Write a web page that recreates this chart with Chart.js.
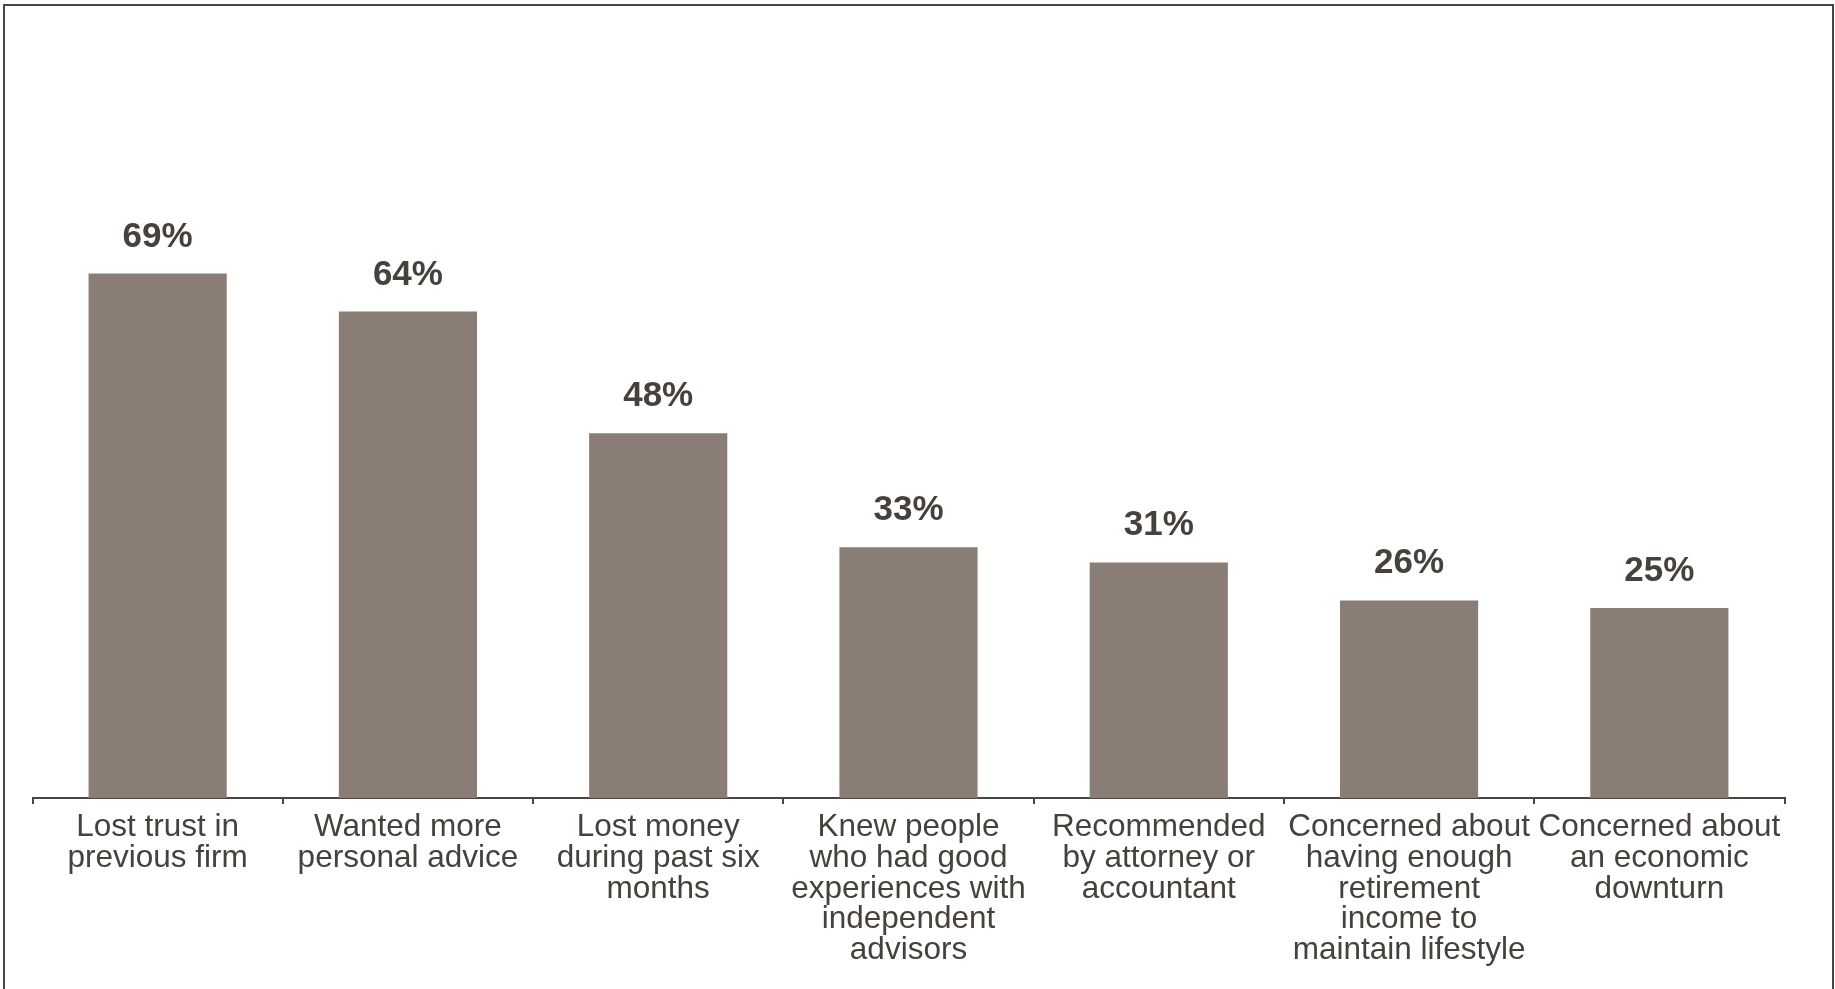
<!DOCTYPE html>
<html>
<head>
<meta charset="utf-8">
<title>Reasons for switching</title>
<script src="https://cdn.jsdelivr.net/npm/chart.js@4"></script>
<style>
  html, body { margin: 0; padding: 0; background: #fff; overflow: hidden; }
  .frame {
    position: absolute; left: 3px; top: 4px; width: 1831px; height: 1100px;
    border: 2px solid #4b4541; box-sizing: border-box;
  }
  .wrap { position: absolute; left: 0; top: 0; width: 1835px; height: 989px; }
</style>
</head>
<body>
<div class="frame"></div>
<div class="wrap"><canvas id="myChart"></canvas></div>
<script>
let reasons = [
    ['Lost trust in', 'previous firm'],
    ['Wanted more', 'personal advice'],
    ['Lost money', 'during past six', 'months'],
    ['Knew people', 'who had good', 'experiences with', 'independent', 'advisors'],
    ['Recommended', 'by attorney or', 'accountant'],
    ['Concerned about', 'having enough', 'retirement', 'income to', 'maintain lifestyle'],
    ['Concerned about', 'an economic', 'downturn']
];
let percents = [69, 64, 48, 33, 31, 26, 25];

const textColor = '#47413c';
const lineColor = '#4b4541';

// percentage above each bar
const valueLabels = {
    id: 'valueLabels',
    afterDatasetsDraw(chart) {
        const ctx = chart.ctx;
        const meta = chart.getDatasetMeta(0);
        ctx.save();
        ctx.fillStyle = textColor;
        ctx.font = "bold 35px 'Liberation Sans', Arial, sans-serif";
        ctx.textAlign = 'center';
        ctx.textBaseline = 'alphabetic';
        meta.data.forEach((bar, i) => {
            ctx.fillText(percents[i] + '%', bar.x, bar.y - 27);
        });
        ctx.restore();
    }
};

let ctx = document.getElementById('myChart').getContext('2d');
let myChart = new Chart(ctx, {
    type: 'bar',
    data: {
        labels: reasons,
        datasets: [{
            data: percents,
            backgroundColor: '#8a7d75',
            borderWidth: 0,
            categoryPercentage: 1,
            barPercentage: 0.552,
        }]
    },
    options: {
        responsive: true,
        maintainAspectRatio: false,
        animation: false,
        layout: {
            padding: { left: 32.5, right: 50.5, top: 38, bottom: 0 }
        },
        scales: {
            y: {
                display: false,
                min: 0,
                max: 100
            },
            x: {
                grid: {
                    offset: true,
                    drawOnChartArea: false,
                    color: lineColor,
                    lineWidth: 2,
                    tickLength: 6
                },
                border: { color: lineColor, width: 2 },
                ticks: {
                    color: textColor,
                    autoSkip: false,
                    maxRotation: 0,
                    padding: 8.5,
                    font: {
                        family: "'Liberation Sans', Arial, sans-serif",
                        size: 31.5,
                        lineHeight: 0.97
                    }
                },
                afterFit: (scale) => { scale.height = 191; }
            }
        },
        plugins: {
            legend: { display: false },
            tooltip: { enabled: false }
        }
    },
    plugins: [valueLabels]
});
</script>
</body>
</html>
